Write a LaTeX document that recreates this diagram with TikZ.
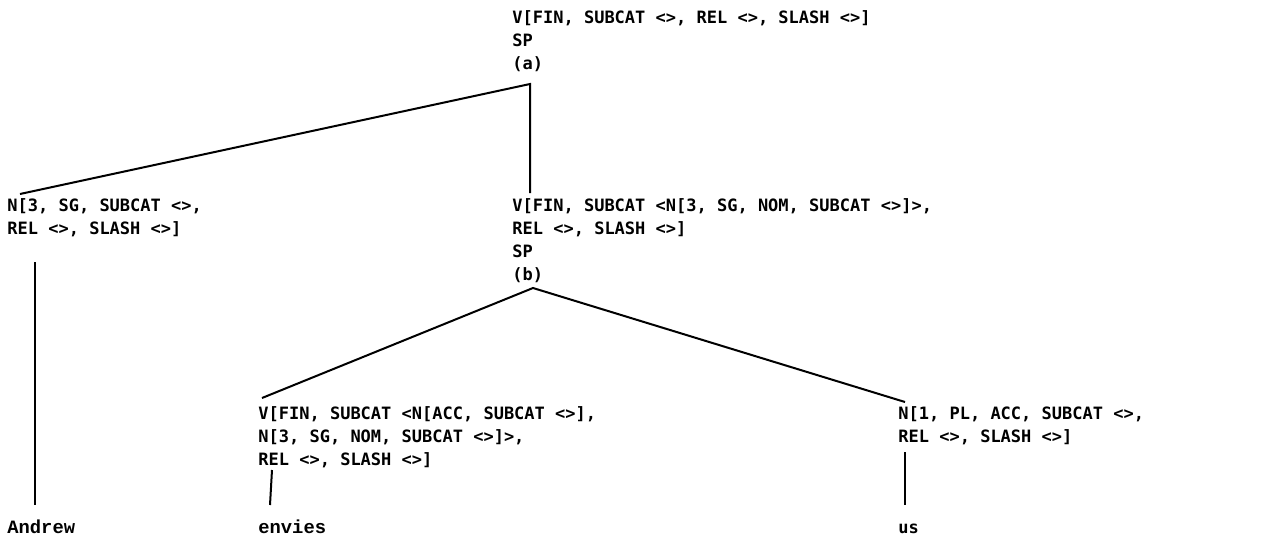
\documentclass[tikz,border=0pt]{standalone}
\usepackage{fontspec}
\newfontfamily\lpfont{DejaVu Sans Mono}
\newfontfamily\twfont{Liberation Mono}

\tikzset{
    cat/.style={anchor=north west, inner sep=0, align=left,
        font=\lpfont\bfseries\fontsize{8.5}{11.5}\selectfont},
    word/.style={cat, anchor=base west},
    typed/.style={word, font=\twfont\bfseries\fontsize{9.4}{11.5}\selectfont},
    branch/.style={line width=1pt},
}

\begin{document}
\begin{tikzpicture}[x=0.5pt, y=-0.5pt]

        \useasboundingbox (0,0) rectangle (1282,542);

        % categories
        \node[cat] (root) at (512,10) {V[FIN, SUBCAT <>, REL <>, SLASH <>]\\SP\\(a)};
        \node[cat] (np1) at (7,198) {N[3, SG, SUBCAT <>,\\REL <>, SLASH <>]};
        \node[cat] (vp) at (512,198) {V[FIN, SUBCAT <N[3, SG, NOM, SUBCAT <>]>,\\REL <>, SLASH <>]\\SP\\(b)};
        \node[cat] (verb) at (258,406) {V[FIN, SUBCAT <N[ACC, SUBCAT <>],\\N[3, SG, NOM, SUBCAT <>]>,\\REL <>, SLASH <>]};
        \node[cat] (np2) at (898,406) {N[1, PL, ACC, SUBCAT <>,\\REL <>, SLASH <>]};

        % words
        \node[typed] (andrew) at (7,533) {Andrew};
        \node[typed] (envies) at (258,533) {envies};
        \node[word] (us) at (898,533) {us};

        % branches
        \draw[branch] ([shift={(13,-4)}]np1.north west) -- ([shift={(18,74)}]root.north west)
            -- ([shift={(18,-5)}]vp.north west);
        \draw[branch] ([shift={(4,-8)}]verb.north west) -- ([shift={(21,90)}]vp.north west)
            -- ([shift={(7,-4)}]np2.north west);

        \draw[branch] ([shift={(28,64)}]np1.north west) -- ([shift={(28,-28)}]andrew.base west);
        \draw[branch] ([shift={(14,64)}]verb.north west) -- ([shift={(12,-28)}]envies.base west);
        \draw[branch] ([shift={(7,46)}]np2.north west) -- ([shift={(7,-28)}]us.base west);

    \end{tikzpicture}
\end{document}
